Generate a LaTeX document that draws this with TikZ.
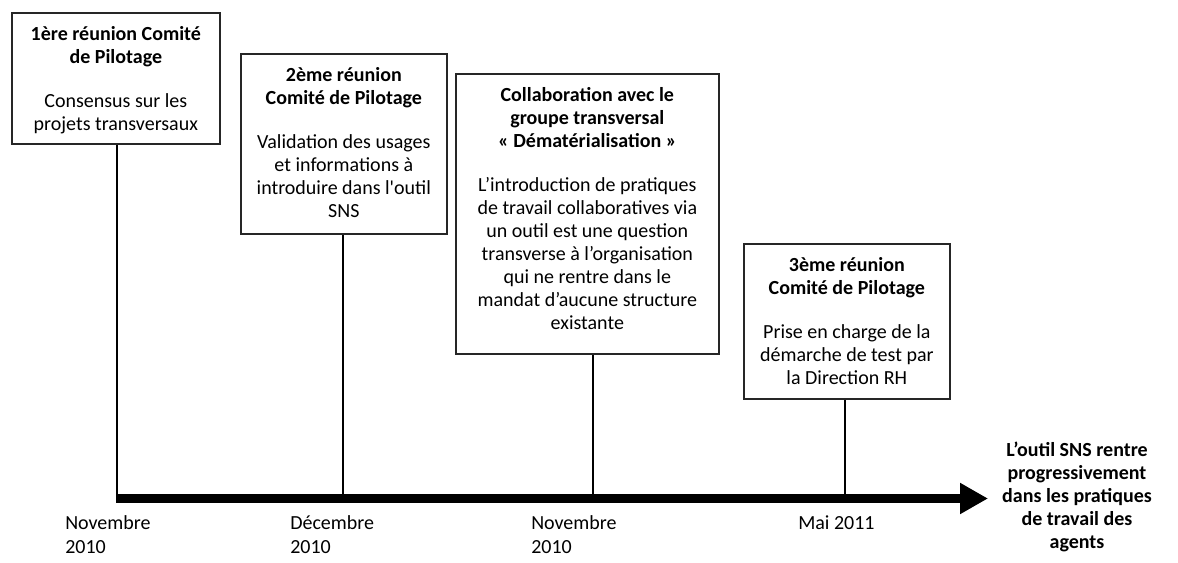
\documentclass[tikz,border=0pt]{standalone}
\usepackage{fontspec}
\setmainfont{Carlito}
\usetikzlibrary{arrows.meta}
\newcommand{\boxtext}[4]{\parbox[c][#2][t]{#1}{\centering\vspace*{9pt}{\bfseries\strut #3\par}\vspace{15.5pt}#4\par}}
\tikzset{
  box/.style={draw=black!85, line width=1.25pt, inner sep=0pt, anchor=north west, fill=white,
              font=\fontsize{15}{17.25}\selectfont},
  link/.style={line width=1pt, draw=black},
  timeline/.style={line width=7.1pt, draw=black, -{Triangle[length=21pt,width=22pt]}},
  datelbl/.style={anchor=north west, inner sep=0pt, align=left, font=\fontsize{15}{18}\selectfont},
  final/.style={anchor=north, inner sep=0pt, align=center, font=\bfseries\fontsize{15}{17.25}\selectfont},
}
\begin{document}
\begin{tikzpicture}[x=0.75pt, y=-0.75pt]
\fill[white] (0,0) rectangle (1178,563);
\useasboundingbox (0,0) rectangle (1178,563);

% boxes
\node[box] (b1) at (11,12) {\boxtext{156pt}{98.25pt}{1ère réunion Comité\\de Pilotage}{Consensus sur les\\projets transversaux}};
\node[box] (b2) at (240,53) {\boxtext{154.5pt}{135pt}{2ème réunion\\Comité de Pilotage}{Validation des usages\\et informations à\\introduire dans l\textquotesingle outil\\SNS}};
\node[box] (b3) at (455,73) {\boxtext{197.25pt}{210pt}{Collaboration avec le\\groupe transversal\\«~Dématérialisation~»}{L’introduction de pratiques\\de travail collaboratives via\\un outil est une question\\transverse à l’organisation\\qui ne rentre dans le\\mandat d’aucune structure\\existante}};
\node[box] (b4) at (743,243) {\boxtext{154.5pt}{116.25pt}{3ème réunion\\Comité de Pilotage}{Prise en charge de la\\démarche de test par\\la Direction RH}};

% timeline
\coordinate (ts) at (116,498.5);
\coordinate (te) at (988,498.5);
\coordinate (t1) at (117,495);
\coordinate (t2) at (343,495);
\coordinate (t3) at (593,495);
\coordinate (t4) at (845,495);
\draw[link] (t1 |- b1.south) -- (t1);
\draw[link] (t2 |- b2.south) -- (t2);
\draw[link] (t3 |- b3.south) -- (t3);
\draw[link] (t4 |- b4.south) -- (t4);
\draw[timeline] (ts) -- (te);

% labels
\node[datelbl] (d1) at (65,515) {Novembre\\2010};
\node[datelbl] (d2) at (290,515) {Décembre\\2010};
\node[datelbl] (d3) at (531,515) {Novembre\\2010};
\node[datelbl] (d4) at (798,515) {Mai 2011};
\node[final] (fin) at (1077,442) {L’outil SNS rentre\\progressivement\\dans les pratiques\\de travail des\\agents};
\end{tikzpicture}
\end{document}
